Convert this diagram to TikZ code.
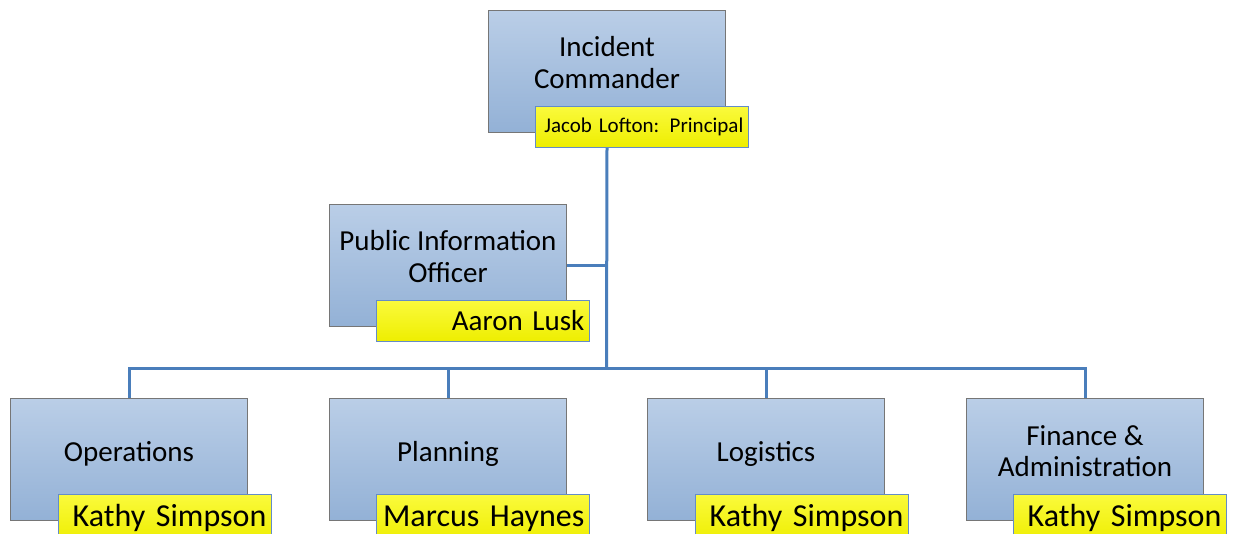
\documentclass[tikz,border=0pt]{standalone}
\usepackage{fontspec}
\setmainfont{Carlito}

\definecolor{boxtop}{RGB}{186,206,231}
\definecolor{boxbot}{RGB}{147,177,214}
\definecolor{boxgray}{RGB}{118,118,118}
\definecolor{tagtop}{RGB}{250,250,60}
\definecolor{tagbot}{RGB}{238,238,0}
\definecolor{tagblue}{RGB}{100,140,200}
\definecolor{linkblue}{RGB}{74,126,187}

\begin{document}
\begin{tikzpicture}[
  x=1pt, y=-1pt,
  unit/.style={draw=boxgray, line width=1pt, top color=boxtop, bottom color=boxbot,
    minimum width=237pt, minimum height=122pt, inner sep=0pt, anchor=north west},
  title/.style={align=center, font=\fontsize{29}{32}\selectfont,
    text height=19pt, text depth=6pt, inner sep=0pt},
  holder/.style={draw=tagblue, line width=0.8pt, top color=tagtop, bottom color=tagbot,
    minimum height=41pt, text width=203pt, align=right, inner sep=5pt, anchor=north west},
  link/.style={draw=linkblue, line width=3pt}
]
\useasboundingbox (0,0) rectangle (1235,534);

% commander
\node [unit] (ic) at (488,10) {};
\node [title] (ictitle) at ([yshift=-11pt]ic.center) {Incident\\Commander};
\node [holder, font=\fontsize{21}{25}\selectfont] (icname) at (535,106) {Jacob Lofton: Principal};

% staff
\node [unit] (pio) at (329,204) {};
\node [title] (piotitle) at ([yshift=-11pt]pio.center) {Public Information\\Officer};
\node [holder, font=\fontsize{29}{31}\selectfont] (pioname) at (376,300) {Aaron Lusk};

% sections
\node [unit] (ops) at (10,398) {};
\node [title] (opstitle) at ([yshift=4pt]ops.center) {Operations};
\node [holder, minimum height=48pt, font=\fontsize{32}{34}\selectfont] (opsname) at (58,494) {Kathy Simpson};

\node [unit] (plan) at (329,398) {};
\node [title] (plantitle) at ([yshift=4pt]plan.center) {Planning};
\node [holder, minimum height=48pt, font=\fontsize{32}{34}\selectfont] (planname) at (376,494) {Marcus Haynes};

\node [unit] (log) at (647,398) {};
\node [title] (logtitle) at ([yshift=4pt]log.center) {Logistics};
\node [holder, minimum height=48pt, font=\fontsize{32}{34}\selectfont] (logname) at (695,494) {Kathy Simpson};

\node [unit] (fin) at (966,398) {};
\node [title] (fintitle) at ([yshift=-11pt]fin.center) {Finance \&\\Administration};
\node [holder, minimum height=48pt, font=\fontsize{32}{34}\selectfont] (finname) at (1013,494) {Kathy Simpson};

% lines
\coordinate (hub) at (606.5,369);
\draw [link] (ic.south |- icname.south) -- (hub);
\draw [link] (pio.east) -- (pio.east -| hub);
\draw [link] (ops.north) |- (hub) -| (fin.north);
\draw [link] (plan.north) -- (plan.north |- hub);
\draw [link] (log.north) -- (log.north |- hub);
\end{tikzpicture}
\end{document}
